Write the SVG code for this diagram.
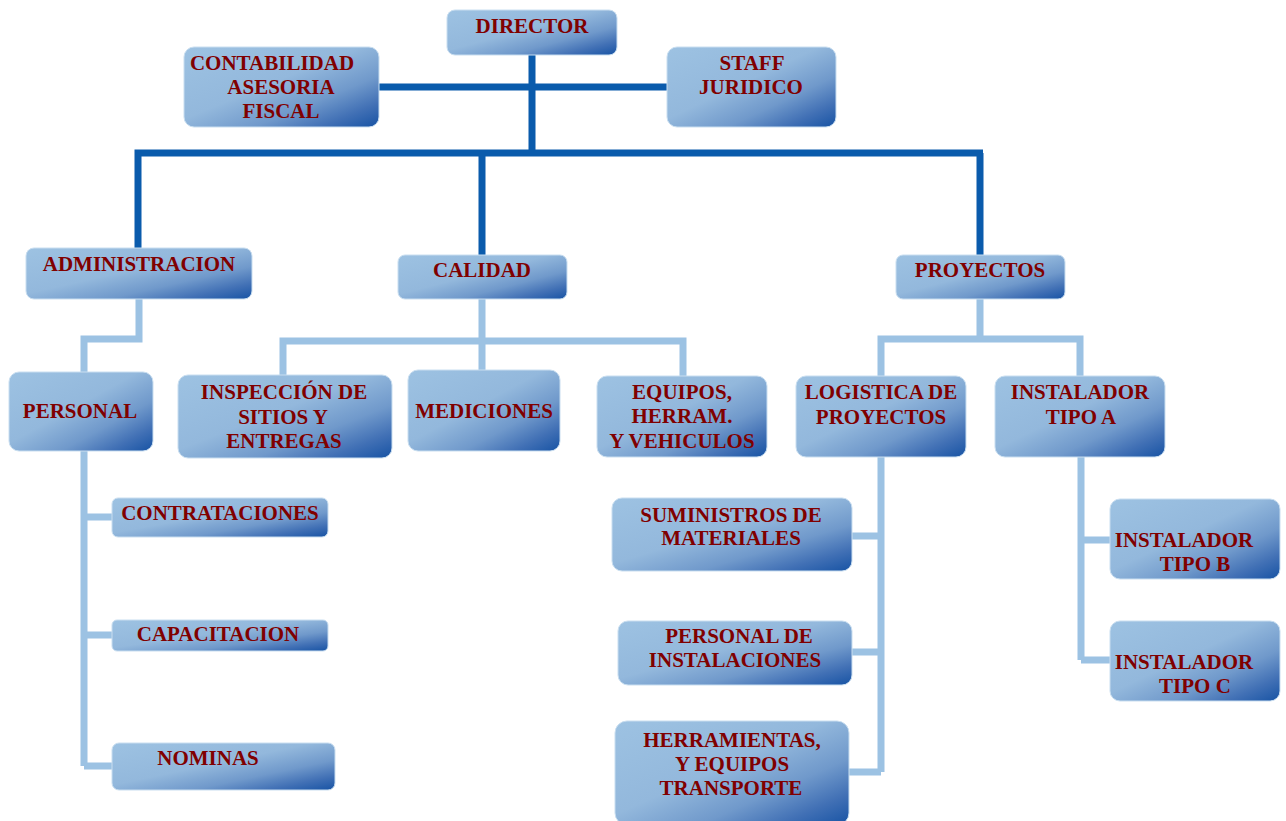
<svg xmlns="http://www.w3.org/2000/svg" width="1286" height="821" viewBox="0 0 1286 821">
  <defs>
    <linearGradient id="boxFill" x1="0" y1="0" x2="1" y2="1">
      <stop offset="0" stop-color="#9DC2E2"/>
      <stop offset="0.45" stop-color="#93B8DC"/>
      <stop offset="0.68" stop-color="#7099CB"/>
      <stop offset="0.85" stop-color="#4170B5"/>
      <stop offset="1" stop-color="#1753A4"/>
    </linearGradient>
    <style>
      .box { fill: url(#boxFill); stroke: #C9DEF0; stroke-width: 1; }
      .lbl { font-family: "Liberation Serif", "Times New Roman", serif; font-weight: bold; font-size: 21px; fill: #800000; text-anchor: middle; }
      .main { stroke: #0A5BAC; stroke-width: 7; fill: none; }
      .sub { stroke: #9CC2E3; stroke-width: 7; fill: none; }
    </style>
  </defs>
  <rect width="1286" height="821" fill="#FFFFFF"/>

  <!-- connectors -->
  <g id="connectors">
    <path class="main" d="M532 55 V153 M379 87 H667 M138 248 V153 H983 M482 153 V255 M980 153 V255"/>
    <path class="sub" d="M139 299 V339 H84 V372"/>
    <path class="sub" d="M84 451 V766 M84 517 H112 M84 635 H112 M84 766 H112"/>
    <path class="sub" d="M482 299 V341 M283 375 V341 H683 V377 M482 341 V370"/>
    <path class="sub" d="M980 299 V339 M881 376 V339 H1080 V376"/>
    <path class="sub" d="M881 457 V772 M852 536 H881 M852 652 H881 M849 772 H881"/>
    <path class="sub" d="M1081 457 V660 M1081 540 H1110 M1081 660 H1110"/>
  </g>

  <g id="director">
    <rect class="box" x="447" y="10" width="170" height="45" rx="8"/>
    <text class="lbl" x="532" y="33">DIRECTOR</text>
  </g>
  <g id="contabilidad">
    <rect class="box" x="184" y="47" width="195" height="80" rx="10"/>
    <text class="lbl" x="272" y="70">CONTABILIDAD</text>
    <text class="lbl" x="281" y="94">ASESORIA</text>
    <text class="lbl" x="281" y="118">FISCAL</text>
  </g>
  <g id="staff">
    <rect class="box" x="667" y="47" width="169" height="80" rx="10"/>
    <text class="lbl" x="752" y="70">STAFF</text>
    <text class="lbl" x="751" y="94">JURIDICO</text>
  </g>
  <g id="administracion">
    <rect class="box" x="26" y="248" width="226" height="51" rx="8"/>
    <text class="lbl" x="139" y="271">ADMINISTRACION</text>
  </g>
  <g id="calidad">
    <rect class="box" x="398" y="255" width="169" height="44" rx="7"/>
    <text class="lbl" x="482" y="277">CALIDAD</text>
  </g>
  <g id="proyectos">
    <rect class="box" x="896" y="255" width="169" height="44" rx="7"/>
    <text class="lbl" x="980" y="277">PROYECTOS</text>
  </g>
  <g id="personal">
    <rect class="box" x="9" y="372" width="144" height="79" rx="10"/>
    <text class="lbl" x="80" y="418">PERSONAL</text>
  </g>
  <g id="inspeccion">
    <rect class="box" x="178" y="375" width="214" height="83" rx="10"/>
    <text class="lbl" x="284" y="399">INSPECCIÓN DE</text>
    <text class="lbl" x="283" y="424">SITIOS Y</text>
    <text class="lbl" x="284" y="448">ENTREGAS</text>
  </g>
  <g id="mediciones">
    <rect class="box" x="408" y="370" width="152" height="81" rx="10"/>
    <text class="lbl" x="484" y="418">MEDICIONES</text>
  </g>
  <g id="equipos">
    <rect class="box" x="597" y="376" width="170" height="81" rx="10"/>
    <text class="lbl" x="682" y="399">EQUIPOS,</text>
    <text class="lbl" x="682" y="423">HERRAM.</text>
    <text class="lbl" x="682" y="448">Y VEHICULOS</text>
  </g>
  <g id="logistica">
    <rect class="box" x="796" y="376" width="170" height="81" rx="10"/>
    <text class="lbl" x="881" y="399">LOGISTICA DE</text>
    <text class="lbl" x="881" y="424">PROYECTOS</text>
  </g>
  <g id="instalador-a">
    <rect class="box" x="995" y="376" width="170" height="81" rx="10"/>
    <text class="lbl" x="1080" y="399">INSTALADOR</text>
    <text class="lbl" x="1081" y="424">TIPO A</text>
  </g>
  <g id="contrataciones">
    <rect class="box" x="112" y="498" width="216" height="39" rx="6"/>
    <text class="lbl" x="220" y="520">CONTRATACIONES</text>
  </g>
  <g id="capacitacion">
    <rect class="box" x="112" y="620" width="216" height="31" rx="5"/>
    <text class="lbl" x="218" y="641">CAPACITACION</text>
  </g>
  <g id="nominas">
    <rect class="box" x="112" y="743" width="223" height="47" rx="7"/>
    <text class="lbl" x="208" y="765">NOMINAS</text>
  </g>
  <g id="suministros">
    <rect class="box" x="612" y="498" width="240" height="73" rx="10"/>
    <text class="lbl" x="731" y="522">SUMINISTROS DE</text>
    <text class="lbl" x="731" y="545">MATERIALES</text>
  </g>
  <g id="personal-instalaciones">
    <rect class="box" x="618" y="621" width="234" height="64" rx="10"/>
    <text class="lbl" x="739" y="643">PERSONAL DE</text>
    <text class="lbl" x="735" y="667">INSTALACIONES</text>
  </g>
  <g id="herramientas">
    <rect class="box" x="615" y="721" width="234" height="104" rx="12"/>
    <text class="lbl" x="732" y="747">HERRAMIENTAS,</text>
    <text class="lbl" x="732" y="771">Y EQUIPOS</text>
    <text class="lbl" x="731" y="795">TRANSPORTE</text>
  </g>
  <g id="instalador-b">
    <rect class="box" x="1110" y="499" width="170" height="80" rx="10"/>
    <text class="lbl" x="1184" y="547">INSTALADOR</text>
    <text class="lbl" x="1195" y="571">TIPO B</text>
  </g>
  <g id="instalador-c">
    <rect class="box" x="1110" y="621" width="170" height="80" rx="10"/>
    <text class="lbl" x="1184" y="669">INSTALADOR</text>
    <text class="lbl" x="1195" y="693">TIPO C</text>
  </g>
</svg>
